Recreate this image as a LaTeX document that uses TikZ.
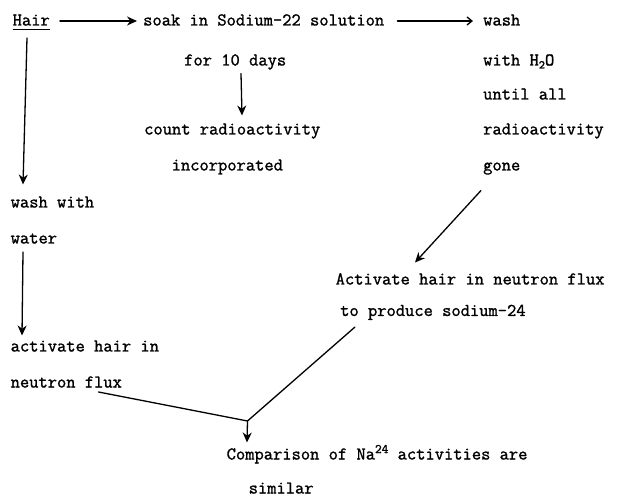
\documentclass[tikz,border=0pt]{standalone}
\usepackage{fontspec}
\setmainfont[FakeBold=1.3]{Latin Modern Mono}
\usetikzlibrary{arrows.meta,calc}
\newcommand\mysub[1]{\raisebox{-3pt}{\fontsize{12}{12}\selectfont #1}}
\newcommand\mysup[1]{\raisebox{6.5pt}{\fontsize{13}{13}\selectfont #1}}
\begin{document}
\begin{tikzpicture}[x=1pt,y=-1pt,
  txt/.style={anchor=base west,inner sep=0pt,font=\fontsize{18}{20}\selectfont},
  conn/.style={line width=1.3pt,line cap=round},
  arr/.style={conn,-{Stealth[length=10pt,width=9pt]}},
  arrb/.style={conn,-{Straight Barb[length=5pt,width=8pt]}}]
\useasboundingbox (0,0) rectangle (619,497);
% nodes
\node[txt] (hair) at (12.5,25.5) {Hair};
\node[txt] (soak) at (143,25.5) {soak in Sodium-22 solution};
\node[txt] (wash) at (483,25.5) {wash};
\node[txt] (withw) at (483,65.5) {with H\mysub{2}O};
\node[txt] (until) at (483,99.5) {until all};
\node[txt] (radio) at (483,134.5) {radioactivity};
\node[txt] (gone) at (483,170.5) {gone};
\node[txt] (days) at (184,65.5) {for 10 days};
\node[txt] (count) at (144,134.5) {count radioactivity};
\node[txt] (incorp) at (171.5,170.5) {incorporated};
\node[txt] (washw) at (10.5,207.5) {wash with};
\node[txt] (water) at (10.5,243.5) {water};
\node[txt] (act2) at (335.5,284.5) {Activate hair in neutron flux};
\node[txt] (prod) at (340,316) {to produce sodium-24};
\node[txt] (act1) at (10.5,351.5) {activate hair in};
\node[txt] (flux) at (10.5,387.5) {neutron flux};
\node[txt] (comp) at (226.5,459.5) {Comparison of Na\mysup{24} activities are};
\node[txt] (sim) at (248.5,493.5) {similar};
% underline of Hair
\draw[line width=1pt] ($(hair.base west)+(0,4.5)$) -- ($(hair.base east)+(0,4.5)$);
% connectors
\draw[arr] ($(hair.base east)+(10,-4.5)$) -- ($(soak.base west)+(-6,-4.5)$);
\draw[arrb] ($(soak.base east)+(13,-4.5)$) -- ($(wash.base west)+(-10,-4.5)$);
\draw[arr] ($(days.base west)+(57,8)$) -- ($(count.base west)+(98,-19)$);
\draw[arr] ($(hair.base west)+(14.5,12.5)$) -- ($(washw.base west)+(12.5,-23)$);
\draw[arr] ($(gone.base west)+(-2,20)$) -- ($(act2.base west)+(79.5,-22)$);
\draw[arr] ($(water.base west)+(12.5,8.5)$) -- ($(act1.base west)+(11.5,-16)$);
\coordinate (j) at ($(comp.base west)+(21,-38.5)$);
\draw[conn] ($(flux.base west)+(88,4.5)$) -- (j);
\draw[conn] ($(prod.base west)+(15,11)$) -- (j);
\draw[arr] (j) -- ($(comp.base west)+(20.5,-17)$);
\end{tikzpicture}
\end{document}
